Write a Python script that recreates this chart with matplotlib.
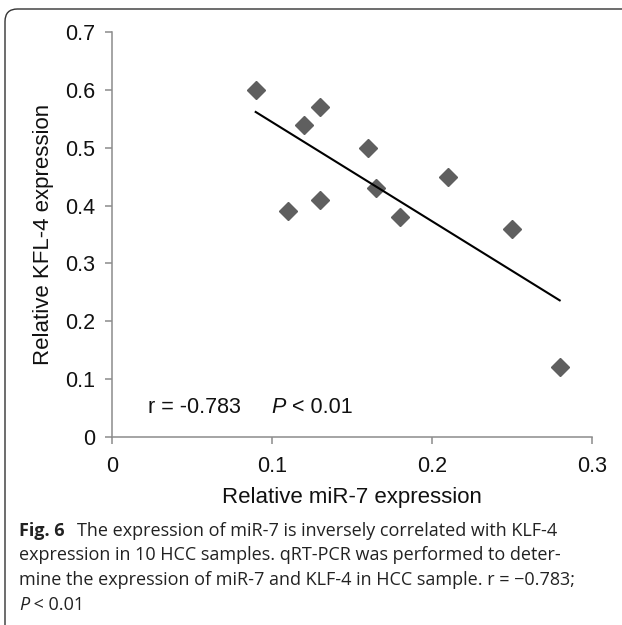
import matplotlib
matplotlib.use('Agg')
import matplotlib.pyplot as plt
import numpy as np
from matplotlib.patches import FancyBboxPatch

# values
mir7 = [0.09, 0.12, 0.13, 0.16, 0.165, 0.21, 0.11, 0.13, 0.18, 0.25, 0.28]
klf4 = [0.60, 0.54, 0.57, 0.50, 0.43, 0.45, 0.39, 0.41, 0.38, 0.36, 0.12]
x_ticks = [0, 0.1, 0.2, 0.3]
y_ticks = [0, 0.1, 0.2, 0.3, 0.4, 0.5, 0.6, 0.7]
x_tick_labels = ['0', '0.1', '0.2', '0.3']
y_tick_labels = ['0', '0.1', '0.2', '0.3', '0.4', '0.5', '0.6', '0.7']

caption_first = 'The expression of miR-7 is inversely correlated with KLF-4'
caption_lines = [
    "expression in 10 HCC samples. qRT-PCR was performed to deter-",
    "mine the expression of miR-7 and KLF-4 in HCC sample. r = \u22120.783;",
]


def italic_p(ax, x, y, rest, transform, **kw):
    # italic "P" followed by the rest of the text in upright style
    p = ax.text(x, y, 'P', style='italic', va='bottom',
                transform=transform, clip_on=False, **kw)
    ax.annotate(rest, xy=(1, 0), xycoords=p, va='bottom',
                annotation_clip=False, **kw)
    return p


def main():
    plt.rcParams['font.family'] = ['Liberation Sans', 'DejaVu Sans']
    fig = plt.figure(figsize=(6.22, 6.25), dpi=100)

    # rounded frame, right and bottom sides run off the picture
    frame = FancyBboxPatch((5 / 622, -0.3), 1.2, 1.3 - 9 / 625,
                           boxstyle='round,pad=0,rounding_size=0.02',
                           transform=fig.transFigure, fill=False,
                           edgecolor='#333333', linewidth=1.0)
    fig.patches.append(frame)

    ax = fig.add_axes([111.7 / 622, 188.3 / 625, 480 / 622, 404.4 / 625])
    ax.set_xlim(0, 0.3)
    ax.set_ylim(0, 0.7)
    ax.set_xticks(x_ticks)
    ax.set_yticks(y_ticks)
    ax.set_xticklabels(x_tick_labels)
    ax.set_yticklabels(y_tick_labels)
    for side in ['top', 'right']:
        ax.spines[side].set_visible(False)
    for side in ['left', 'bottom']:
        ax.spines[side].set_color('#8c8c8c')
        ax.spines[side].set_linewidth(1.1)
    ax.tick_params(axis='both', colors='#8c8c8c', labelcolor='#111111',
                   labelsize=15.5, length=5, width=1.1, direction='out')
    ax.tick_params(axis='y', pad=7)
    ax.tick_params(axis='x', pad=9)
    ax.patch.set_alpha(0)

    ax.plot(mir7, klf4, 'D', color='#5f5f5f', markersize=9.5, clip_on=False)

    # linear trend line
    k, b = np.polyfit(mir7, klf4, 1)
    xs = np.array([min(mir7), max(mir7)])
    ax.plot(xs, k * xs + b, '-', color='black', linewidth=1.5)

    ax.text(0.023, 0.033, 'r = -0.783', fontsize=15.5, va='bottom',
            color='#111111')
    italic_p(ax, 0.1, 0.033, ' < 0.01', ax.transData, fontsize=15.5,
             color='#111111')

    ax.set_xlabel('Relative miR-7 expression', fontsize=16, labelpad=7,
                  color='#111111')
    ax.set_ylabel('Relative KFL-4 expression', fontsize=16, labelpad=8,
                  color='#111111')

    # caption
    cap = dict(fontsize=13.0, family=['Open Sans', 'DejaVu Sans'],
               color='#222222')
    fig_label = ax.text(19 / 622, 1 - 539.5 / 625, 'Fig. 6', fontweight='bold',
                        va='bottom', transform=fig.transFigure, clip_on=False,
                        **cap)
    ax.annotate(caption_first, xy=(1, 0), xycoords=fig_label,
                xytext=(9, 0), textcoords='offset points', va='bottom',
                annotation_clip=False, **cap)
    for i, line in enumerate(caption_lines):
        fig.text(19 / 622, 1 - (560 + 25 * i) / 625, line, va='baseline',
                 **cap)
    italic_p(ax, 19 / 622, 1 - 614.5 / 625, ' < 0.01', fig.transFigure, **cap)

    fig.savefig('out.png', dpi=100)


if __name__ == '__main__':
    main()
